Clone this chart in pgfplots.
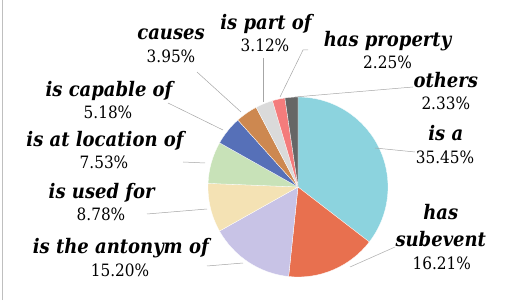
\documentclass[border=0pt]{standalone}
\usepackage{pgfplots}
\pgfplotsset{compat=1.18}
\usepackage{fontspec}
\setmainfont{DejaVu Serif Condensed}
\definecolor{cIsA}{HTML}{8CD3DE}
\definecolor{cSub}{HTML}{E8704F}
\definecolor{cAnt}{HTML}{C8C3E6}
\definecolor{cUse}{HTML}{F4E2B4}
\definecolor{cLoc}{HTML}{C8E2B8}
\definecolor{cCap}{HTML}{5670B8}
\definecolor{cCau}{HTML}{CD8850}
\definecolor{cPar}{HTML}{DADADA}
\definecolor{cPro}{HTML}{F47C7C}
\definecolor{cOth}{HTML}{666666}
\newcommand\nm{\fontsize{20}{22}\selectfont\bfseries\itshape}
\newcommand\pc{\fontsize{17}{19}\selectfont}
\def\cum{0}
\newcommand\slice[2]{%
  \pgfmathsetmacro\sa{90-3.6*\cum}%
  \pgfmathsetmacro\ea{90-3.6*(\cum+#1)}%
  \edef\temp{\noexpand\fill[#2,draw=white,line width=0.3pt] (axis cs:298,113) -- ++(\sa:90pt) arc[start angle=\sa,end angle=\ea,radius=90pt] -- cycle;}%
  \temp
  \pgfmathsetmacro\newcum{\cum+#1}%
  \global\let\cum\newcum
}
\begin{document}
\begin{tikzpicture}
\begin{axis}[width=530pt,height=300pt,scale only axis,hide axis,clip=false,
  xmin=0,xmax=530,ymin=0,ymax=300]
\slice{35.45}{cIsA}
\slice{16.21}{cSub}
\slice{15.20}{cAnt}
\slice{8.78}{cUse}
\slice{7.53}{cLoc}
\slice{5.18}{cCap}
\slice{3.95}{cCau}
\slice{3.12}{cPar}
\slice{2.25}{cPro}
\slice{2.33}{cOth}
% leader lines
\begin{scope}[draw=black!35,line width=0.5pt]
\draw (axis cs:197,228) -- (axis cs:241,188);
\draw (axis cs:263,242) -- (axis cs:263,198);
\draw (axis cs:308,250) -- (axis cs:303,250) -- (axis cs:280,203);
\draw (axis cs:413,213) -- (axis cs:295,203);
\draw (axis cs:415,148) -- (axis cs:375,152);
\draw (axis cs:395,53) -- (axis cs:350,33);
\draw (axis cs:207,34) -- (axis cs:243,37);
\draw (axis cs:147,86) -- (axis cs:207,91);
\draw (axis cs:183,138) -- (axis cs:205,137);
\draw (axis cs:168,197) -- (axis cs:223,170);
\end{scope}
\draw[black!25,line width=1pt] (axis cs:2.5,0) -- (axis cs:2.5,300);
% labels
\begin{scope}[every node/.style={anchor=base,inner sep=0pt}]
\node[font=\nm] at (axis cs:171,260.7) {causes};
\node[font=\pc] at (axis cs:171,237.3) {3.95\%};
\node[font=\nm] at (axis cs:266,270.7) {is part of};
\node[font=\pc] at (axis cs:265,248.3) {3.12\%};
\node[font=\nm] at (axis cs:387.5,253.3) {has property};
\node[font=\pc] at (axis cs:387.5,231) {2.25\%};
\node[font=\nm] at (axis cs:445.8,212.7) {others};
\node[font=\pc] at (axis cs:445.8,190) {2.33\%};
\node[font=\nm] at (axis cs:445.8,159) {is a};
\node[font=\pc] at (axis cs:445,136.7) {35.45\%};
\node[font=\nm] at (axis cs:440.8,80) {has};
\node[font=\nm] at (axis cs:440.8,53.3) {subevent};
\node[font=\pc] at (axis cs:441.7,30.7) {16.21\%};
\node[font=\nm] at (axis cs:120.8,46.7) {is the antonym of};
\node[font=\pc] at (axis cs:120,23.3) {15.20\%};
\node[font=\nm] at (axis cs:101.7,101.7) {is used for};
\node[font=\pc] at (axis cs:101,79.3) {8.78\%};
\node[font=\nm] at (axis cs:105,153.3) {is at location of};
\node[font=\pc] at (axis cs:104,131.7) {7.53\%};
\node[font=\nm] at (axis cs:109,203.3) {is capable of};
\node[font=\pc] at (axis cs:108,181) {5.18\%};
\end{scope}
\end{axis}
\pgfresetboundingbox
\useasboundingbox (0,0) rectangle (530pt,300pt);
\end{tikzpicture}
\end{document}
